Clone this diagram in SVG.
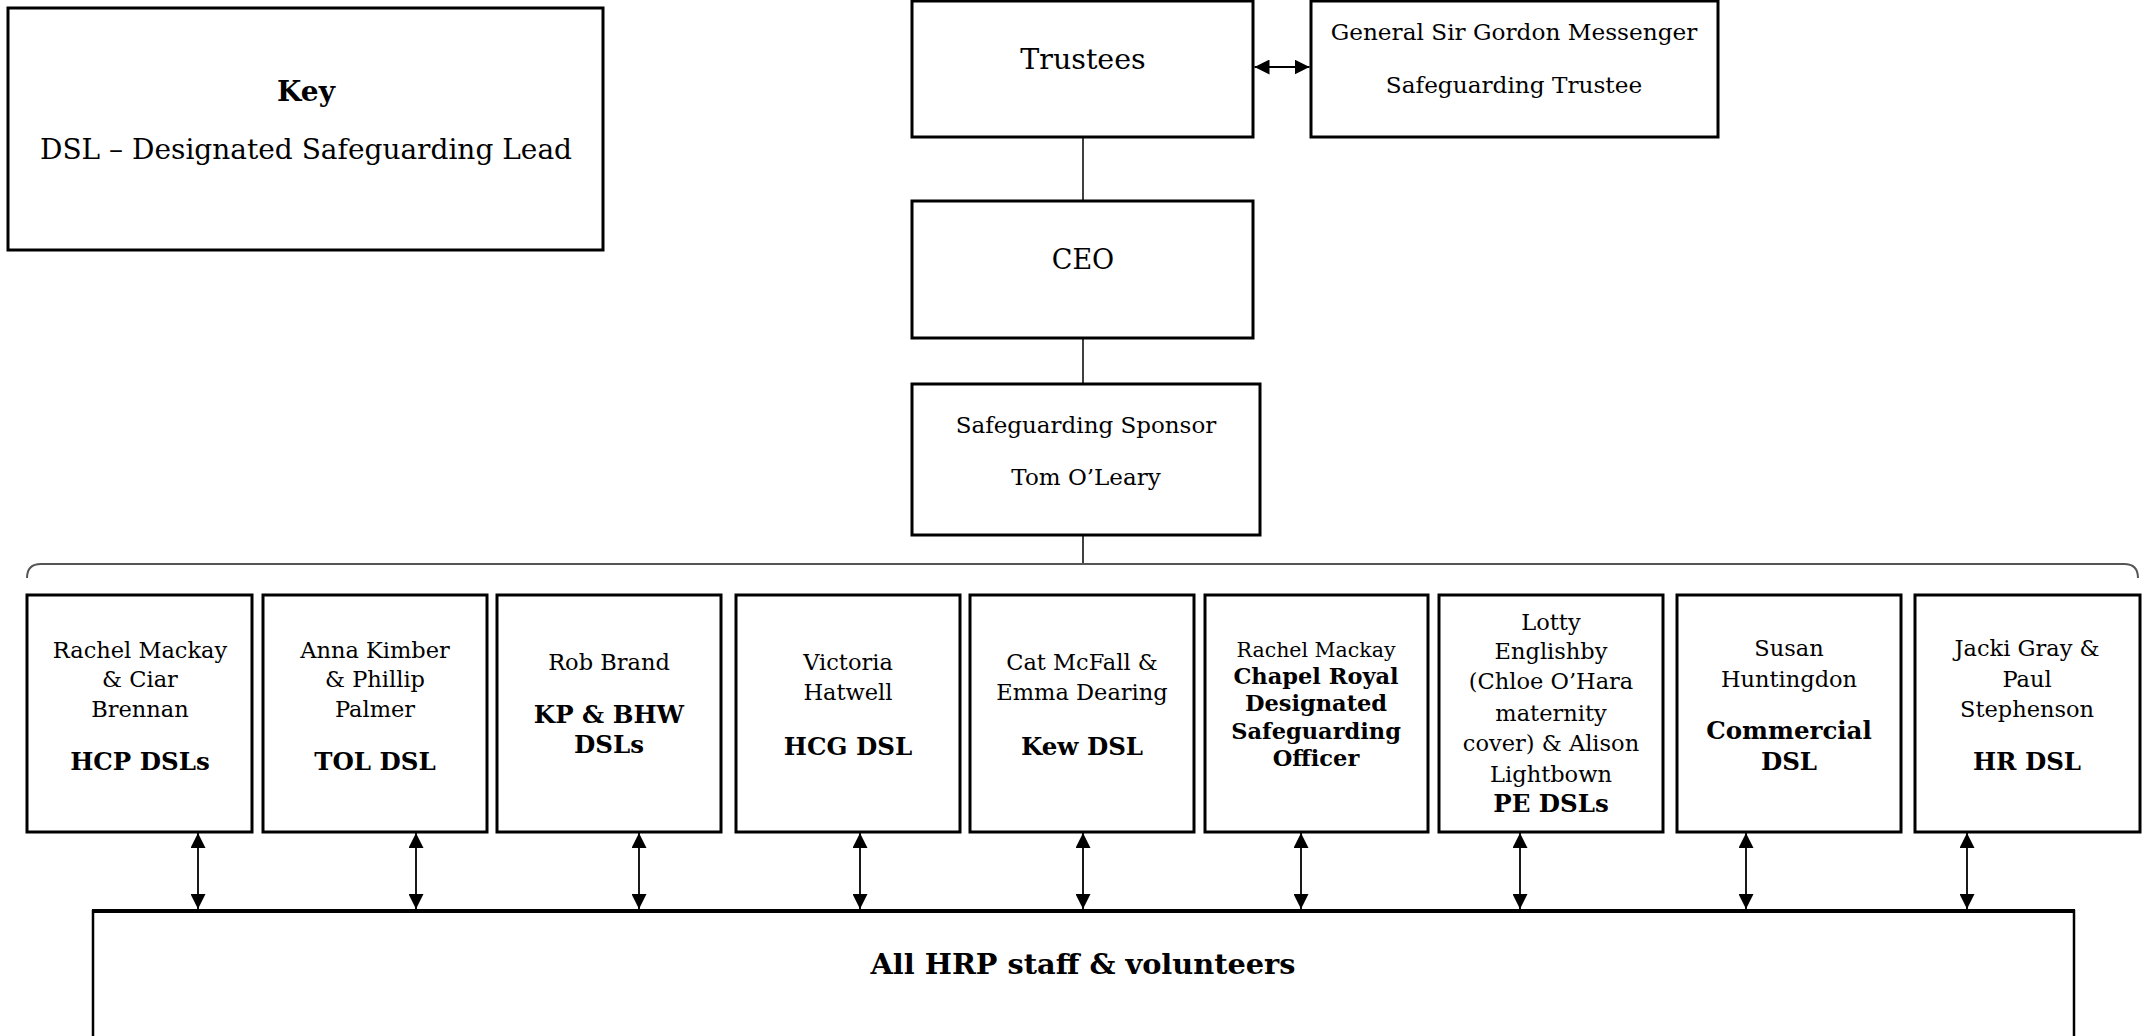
<svg xmlns="http://www.w3.org/2000/svg" width="2145" height="1036" viewBox="0 0 2145 1036">
<style>
  .box { fill: #ffffff; stroke: #000000; stroke-width: 3; }
  .t { font-family: "DejaVu Serif", "Liberation Serif", serif; fill: #000000; text-anchor: middle; }
  .r28 { font-size: 22.5px; }
  .b29 { font-size: 24.5px; font-weight: bold; }
  .b22 { font-size: 22.5px; font-weight: bold; }
  .conn { stroke: #000000; stroke-width: 1.5; fill: none; }
  .ar { stroke: #000000; stroke-width: 1.8; fill: none; marker-start: url(#ah); marker-end: url(#ah); }
</style>
<defs>
  <marker id="ah" markerUnits="userSpaceOnUse" markerWidth="15" markerHeight="15" viewBox="0 0 15 15" refX="15" refY="7.5" orient="auto-start-reverse">
    <path d="M0,0 L15,7.5 L0,15 z" fill="#000000"/>
  </marker>
</defs>
<rect width="2145" height="1036" fill="#ffffff"/>

<g id="connectors">
  <line class="conn" x1="1083" y1="137" x2="1083" y2="201"/>
  <line class="conn" x1="1083" y1="338" x2="1083" y2="384"/>
  <line class="conn" x1="1083" y1="535" x2="1083" y2="564"/>
  <path d="M27,578 Q27,564 41,564 L2124,564 Q2138,564 2138,578" fill="none" stroke="#555555" stroke-width="2"/>
  <line class="ar" x1="1254.5" y1="67" x2="1309.5" y2="67"/>
  <line class="ar" x1="198" y1="833" x2="198" y2="909"/>
  <line class="ar" x1="416" y1="833" x2="416" y2="909"/>
  <line class="ar" x1="639" y1="833" x2="639" y2="909"/>
  <line class="ar" x1="860" y1="833" x2="860" y2="909"/>
  <line class="ar" x1="1083" y1="833" x2="1083" y2="909"/>
  <line class="ar" x1="1301" y1="833" x2="1301" y2="909"/>
  <line class="ar" x1="1520" y1="833" x2="1520" y2="909"/>
  <line class="ar" x1="1746" y1="833" x2="1746" y2="909"/>
  <line class="ar" x1="1967" y1="833" x2="1967" y2="909"/>
</g>

<g id="key">
  <rect class="box" x="8" y="8" width="595" height="242"/>
  <text class="t" x="306" y="101" font-size="28" font-weight="bold">Key</text>
  <text class="t" x="306" y="159" font-size="28">DSL – Designated Safeguarding Lead</text>
</g>

<g id="trustees">
  <rect class="box" x="912" y="1" width="341" height="136"/>
  <text class="t" x="1083" y="69" font-size="28.5">Trustees</text>
</g>

<g id="safeguarding-trustee">
  <rect class="box" x="1311" y="1" width="407" height="136"/>
  <text class="t" x="1514" y="40" font-size="23.2">General Sir Gordon Messenger</text>
  <text class="t" x="1514" y="93" font-size="23.2">Safeguarding Trustee</text>
</g>

<g id="ceo">
  <rect class="box" x="912" y="201" width="341" height="137"/>
  <text class="t" x="1083" y="269" font-size="27">CEO</text>
</g>

<g id="sponsor">
  <rect class="box" x="912" y="384" width="348" height="151"/>
  <text class="t" x="1086" y="433" font-size="23">Safeguarding Sponsor</text>
  <text class="t" x="1086" y="485" font-size="23">Tom O’Leary</text>
</g>

<g id="hcp">
  <rect class="box" x="27" y="595" width="225" height="237"/>
  <text class="t r28" x="140" y="658">Rachel Mackay</text>
  <text class="t r28" x="140" y="687">&amp; Ciar</text>
  <text class="t r28" x="140" y="717">Brennan</text>
  <text class="t b29" x="140" y="770">HCP DSLs</text>
</g>

<g id="tol">
  <rect class="box" x="263" y="595" width="224" height="237"/>
  <text class="t r28" x="375" y="658">Anna Kimber</text>
  <text class="t r28" x="375" y="687">&amp; Phillip</text>
  <text class="t r28" x="375" y="717">Palmer</text>
  <text class="t b29" x="375" y="770">TOL DSL</text>
</g>

<g id="kp-bhw">
  <rect class="box" x="497" y="595" width="224" height="237"/>
  <text class="t r28" x="609" y="670">Rob Brand</text>
  <text class="t b29" x="609" y="723" font-size="23">KP &amp; BHW</text>
  <text class="t b29" x="609" y="753">DSLs</text>
</g>

<g id="hcg">
  <rect class="box" x="736" y="595" width="224" height="237"/>
  <text class="t r28" x="848" y="670">Victoria</text>
  <text class="t r28" x="848" y="700">Hatwell</text>
  <text class="t b29" x="848" y="755">HCG DSL</text>
</g>

<g id="kew">
  <rect class="box" x="970" y="595" width="224" height="237"/>
  <text class="t r28" x="1082" y="670">Cat McFall &amp;</text>
  <text class="t r28" x="1082" y="700">Emma Dearing</text>
  <text class="t b29" x="1082" y="755">Kew DSL</text>
</g>

<g id="chapel-royal">
  <rect class="box" x="1205" y="595" width="223" height="237"/>
  <text class="t" x="1316" y="657" font-size="20.5">Rachel Mackay</text>
  <text class="t b22" x="1316" y="684">Chapel Royal</text>
  <text class="t b22" x="1316" y="711">Designated</text>
  <text class="t b22" x="1316" y="739">Safeguarding</text>
  <text class="t b22" x="1316" y="766">Officer</text>
</g>

<g id="pe">
  <rect class="box" x="1439" y="595" width="224" height="237"/>
  <text class="t r28" x="1551" y="630">Lotty</text>
  <text class="t r28" x="1551" y="659">Englishby</text>
  <text class="t r28" x="1551" y="689">(Chloe O’Hara</text>
  <text class="t r28" x="1551" y="721">maternity</text>
  <text class="t r28" x="1551" y="751">cover) &amp; Alison</text>
  <text class="t r28" x="1551" y="782">Lightbown</text>
  <text class="t b29" x="1551" y="812">PE DSLs</text>
</g>

<g id="commercial">
  <rect class="box" x="1677" y="595" width="224" height="237"/>
  <text class="t r28" x="1789" y="656">Susan</text>
  <text class="t r28" x="1789" y="687">Huntingdon</text>
  <text class="t b29" x="1789" y="739">Commercial</text>
  <text class="t b29" x="1789" y="770">DSL</text>
</g>

<g id="hr">
  <rect class="box" x="1915" y="595" width="225" height="237"/>
  <text class="t r28" x="2027" y="656">Jacki Gray &amp;</text>
  <text class="t r28" x="2027" y="687">Paul</text>
  <text class="t r28" x="2027" y="717">Stephenson</text>
  <text class="t b29" x="2027" y="770">HR DSL</text>
</g>

<g id="all-staff">
  <rect x="93" y="911" width="1981" height="140" fill="#ffffff" stroke="#000000" stroke-width="2.5"/>
  <line x1="92" y1="911" x2="2075" y2="911" stroke="#000000" stroke-width="4"/>
  <text class="t" x="1083" y="974" font-size="28.8" font-weight="bold">All HRP staff &amp; volunteers</text>
</g>
</svg>
